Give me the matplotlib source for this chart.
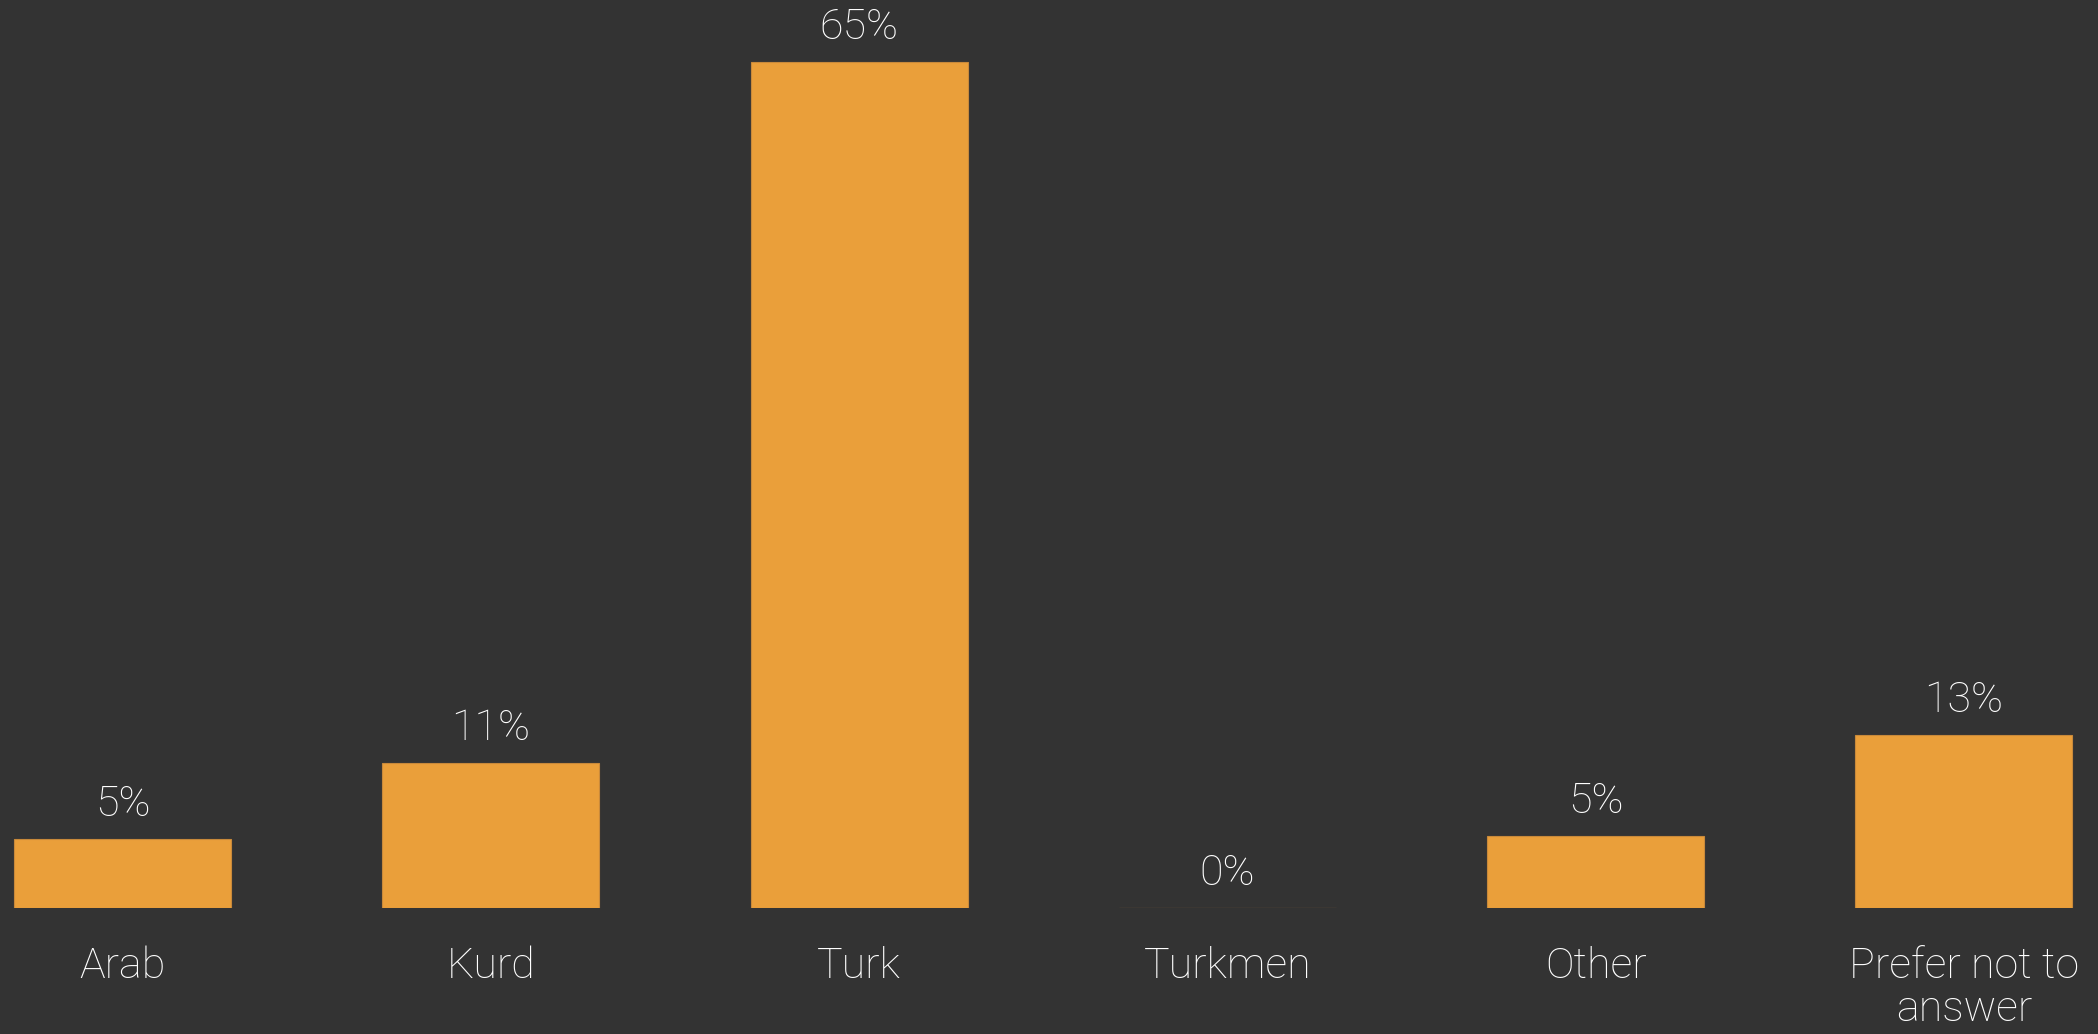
import matplotlib
matplotlib.use("Agg")
import matplotlib.pyplot as plt

categories = ["Arab", "Kurd", "Turk", "Turkmen", "Other", "Prefer not to\nanswer"]
values = [5.26, 11.1, 65.0, 0.0, 5.49, 13.25]
labels = ["5%", "11%", "65%", "0%", "5%", "13%"]

bg = "#333333"
bar_color = "#EA9F3A"

plt.rcParams['font.family'] = ['Roboto', 'DejaVu Sans']

fig = plt.figure(figsize=(20.98, 10.34), dpi=100, facecolor=bg)
ax = fig.add_axes([0, 126.3 / 1034, 1, 907.7 / 1034])
ax.set_facecolor(bg)

x = list(range(len(categories)))
ax.bar(x, values, width=0.589, color=bar_color, edgecolor="#C8893A", linewidth=0.8)

ax.set_xlim(-0.3326, 5.364)
ax.set_ylim(0, 69.77)

for xi, v, lab in zip(x, values, labels):
    ax.annotate(lab, (xi, v), xytext=(0, 16.5), textcoords="offset points",
                ha="center", va="baseline", fontsize=31, color="white",
                fontweight="light")

# category names under the bars, top-aligned so the 2-line one wraps downwards
for xi, cat in zip(x, categories):
    ax.annotate(cat, (xi, 0), xytext=(0, -27.5), textcoords="offset points",
                ha="center", va="top", fontsize=31, color="white",
                fontweight="light", linespacing=1.08, annotation_clip=False)

ax.axis("off")

fig.savefig("out.png", dpi=100, facecolor=bg)
